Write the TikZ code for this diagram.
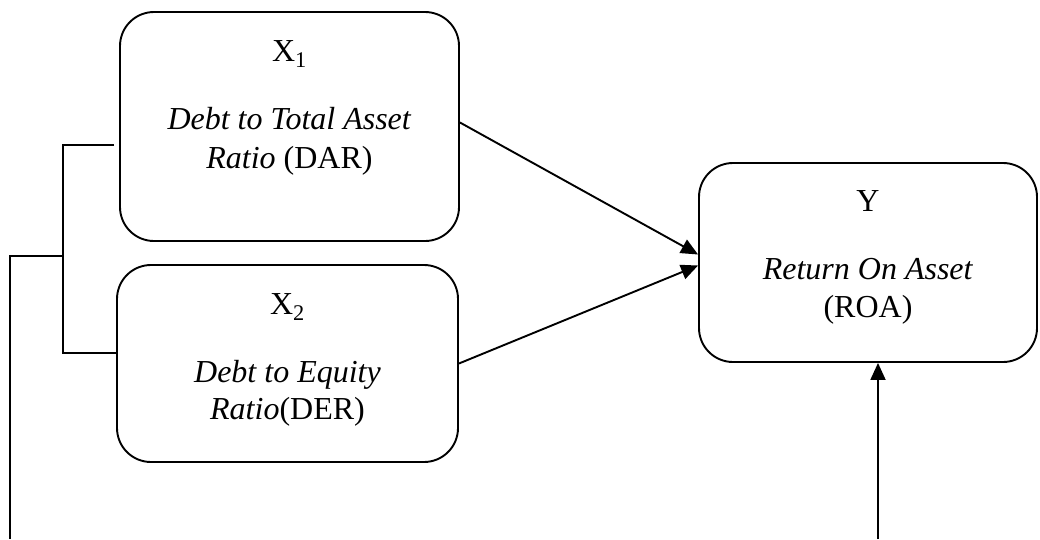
\documentclass[tikz,border=0pt]{standalone}
\usepackage{fontspec}
\setmainfont{Liberation Serif}
\usetikzlibrary{arrows.meta, positioning}

\begin{document}
\begin{tikzpicture}[
            x = 1pt, y = 1pt, % one unit per pixel
            > = {Triangle[length=17pt, width=15pt]}, % arrow head style
            line width = 1.9pt, % line style
            font = \fontsize{32}{39}\selectfont
        ]

        \tikzstyle{var}=[
            draw = black,
            rounded corners = 34pt,
            inner sep = 0pt
        ]
        \tikzstyle{lbl}=[
            anchor = base,
            inner sep = 0pt
        ]

        \useasboundingbox (0,0) rectangle (1040,-539);

        % variable boxes
        \node[var, minimum width = 339pt, minimum height = 229pt] (x1) at (289.5,-126.5) {};
        \node[var, minimum width = 341pt, minimum height = 197pt] (x2) at (287.5,-363.5) {};
        \node[var, minimum width = 338pt, minimum height = 199pt] (y) at (868,-262.5) {};

        \node[lbl] (x1a) at ([yshift=-50pt]x1.north) {X\textsubscript{1}};
        \node[lbl] (x1b) at ([yshift=-118pt]x1.north) {\textit{Debt to Total Asset}};
        \node[lbl] (x1c) at ([yshift=-157pt]x1.north) {\textit{Ratio} (DAR)};

        \node[lbl] (x2a) at ([yshift=-50pt]x2.north) {X\textsubscript{2}};
        \node[lbl] (x2b) at ([yshift=-118pt]x2.north) {\textit{Debt to Equity}};
        \node[lbl] (x2c) at ([yshift=-155pt]x2.north) {\textit{Ratio}(DER)};

        \node[lbl] (ya) at ([yshift=-49pt]y.north) {Y};
        \node[lbl] (yb) at ([yshift=-117pt]y.north) {\textit{Return On Asset}};
        \node[lbl] (yc) at ([yshift=-155pt]y.north) {(ROA)};

        % bracket on the left
        \coordinate (jt) at (63,-145);
        \coordinate (jm) at (63,-256);
        \coordinate (jb) at (63,-353);
        \coordinate (lb) at (10,-539);
        \coordinate (yin) at (878,-539);

        \draw ([xshift=-5pt]x1.west |- jt) -- (jt) -- (jb) -- (x2.west |- jb);
        \draw (jm) -- (lb |- jm) -- (lb);

        % arrows into Y
        \draw[->] ([yshift=4pt]x1.east) -- ([yshift=8pt]y.west);
        \draw[->] (x2.east) -- ([yshift=-3pt]y.west);
        \draw[->] (yin) -- (yin |- y.south);

\end{tikzpicture}
\end{document}
